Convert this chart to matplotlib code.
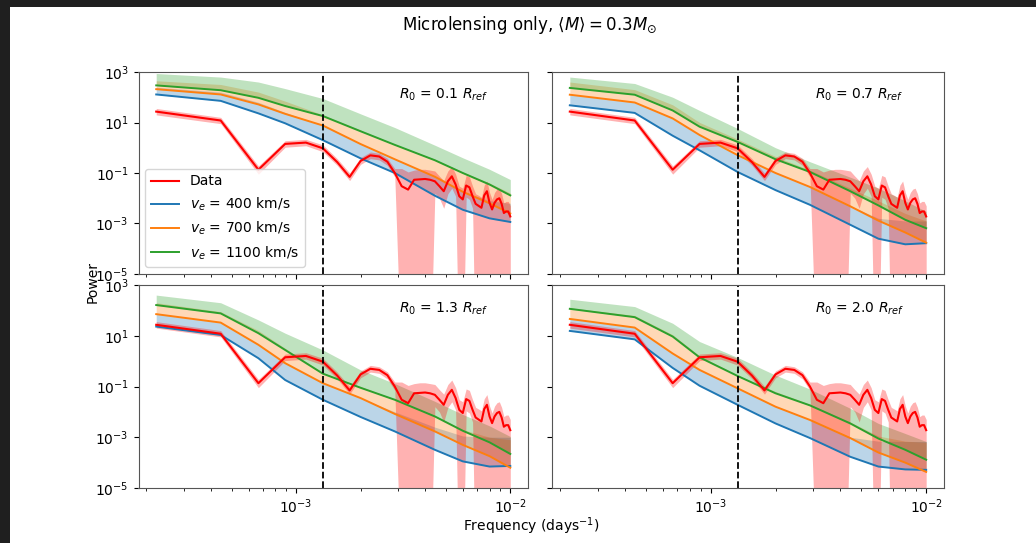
import numpy as np
import matplotlib
matplotlib.use("Agg")
import matplotlib.pyplot as plt
from matplotlib.patches import Rectangle

# ---------------- data ----------------
T_OBS_DAYS = 4500.0
k_data = np.arange(1, 46)                 # harmonic index of the data periodogram
k_model = [1, 2, 3, 4, 6, 9, 13, 20, 27, 36, 45]
f_cut = 6 / T_OBS_DAYS                    # dashed vertical line

power_data = [27, 12, 0.135, 1.42, 1.6, 0.95, 0.27, 0.07, 0.3, 0.5,
              0.45, 0.28, 0.1, 0.03, 0.022, 0.054, 0.056, 0.058, 0.054, 0.047,
              0.03, 0.019, 0.047, 0.074, 0.035, 0.012, 0.009, 0.032, 0.027, 0.012,
              0.006, 0.005, 0.0042, 0.013, 0.019, 0.0066, 0.0036, 0.0066, 0.009, 0.01,
              0.006, 0.0026, 0.003, 0.003, 0.0019]
power_data_lo = [20, 9, 0.09, 1.05, 1.2, 0.7, 0.2, 0.05, 0.22, 0.37,
                 0.33, 0.2, 0.07, 1e-9, 1e-9, 1e-9, 1e-9, 1e-9, 1e-9, 0.016,
                 0.01, 0.004, 0.015, 0.025, 0.012, 1e-9, 1e-9, 0.011, 0.009, 0.004,
                 1e-9, 1e-9, 1e-9, 1e-9, 1e-9, 1e-9, 1e-9, 1e-9, 1e-9, 1e-9,
                 1e-9, 1e-9, 1e-9, 1e-9, 1e-9]
power_data_hi = [36, 16, 0.19, 1.9, 2.15, 1.3, 0.37, 0.1, 0.41, 0.68,
                 0.6, 0.38, 0.15, 0.15, 0.11, 0.13, 0.14, 0.14, 0.13, 0.12,
                 0.075, 0.05, 0.12, 0.18, 0.09, 0.03, 0.025, 0.08, 0.07, 0.03,
                 0.015, 0.013, 0.011, 0.033, 0.048, 0.017, 0.009, 0.017, 0.023, 0.025,
                 0.015, 0.0065, 0.0075, 0.0075, 0.005]

radii = [0.1, 0.7, 1.3, 2.0]
velocities = [400, 700, 1100]

# R0 = 0.1 R_ref
r01_v400 = [129, 72, 23, 9.3, 2.0, 0.38, 0.10, 0.0126, 0.0035, 0.0016, 0.00115]
r01_v400_hi = [250, 160, 63, 25, 7.6, 1.4, 0.35, 0.071, 0.018, 0.008, 0.0063]
r01_v700 = [209, 129, 52, 22, 7.6, 1.4, 0.35, 0.071, 0.018, 0.0063, 0.0025]
r01_v700_hi = [450, 320, 160, 70, 20, 5, 1.4, 0.35, 0.11, 0.04, 0.016]
r01_v1100 = [295, 190, 95, 45, 18, 4.5, 1.3, 0.32, 0.1, 0.035, 0.013]
r01_v1100_hi = [870, 630, 400, 220, 89, 22, 6.3, 1.26, 0.4, 0.14, 0.055]

# R0 = 0.7 R_ref
r07_v400 = [48, 24, 3.0, 0.79, 0.11, 0.021, 0.0055, 0.00089, 0.00025, 0.00015, 0.000166]
r07_v400_hi = [126, 62, 14.5, 3.2, 0.51, 0.1, 0.028, 0.005, 0.0016, 0.00126, 0.00126]
r07_v700 = [126, 62, 14.5, 3.2, 0.51, 0.1, 0.028, 0.0048, 0.0013, 0.00044, 0.000174]
r07_v700_hi = [400, 200, 50, 10, 2.2, 0.45, 0.13, 0.025, 0.0079, 0.0025, 0.00126]
r07_v1100 = [234, 126, 30, 6.8, 1.7, 0.35, 0.11, 0.019, 0.0052, 0.0014, 0.00065]
r07_v1100_hi = [630, 350, 100, 30, 5.8, 1.0, 0.28, 0.068, 0.025, 0.0079, 0.003]

# R0 = 1.3 R_ref
r13_v400 = [23, 10.7, 1.3, 0.18, 0.03, 0.0063, 0.0017, 0.00032, 0.000112, 0.00007, 0.000074]
r13_v400_hi = [71, 33, 4.4, 0.83, 0.135, 0.035, 0.01, 0.0025, 0.00112, 0.001, 0.001]
r13_v700 = [71, 33, 4.4, 0.83, 0.135, 0.035, 0.0083, 0.0017, 0.0005, 0.00018, 0.000063]
r13_v700_hi = [200, 89, 16, 3.2, 0.35, 0.1, 0.032, 0.0071, 0.002, 0.001, 0.0008]
r13_v1100 = [162, 76, 12.6, 2.75, 0.32, 0.089, 0.03, 0.0066, 0.0018, 0.00063, 0.00022]
r13_v1100_hi = [400, 200, 42, 12.6, 2.75, 0.45, 0.13, 0.026, 0.0079, 0.0028, 0.00107]

# R0 = 2.0 R_ref
r20_v400 = [15.5, 7.2, 0.54, 0.107, 0.019, 0.0035, 0.00093, 0.00017, 0.00007, 0.000054, 0.000052]
r20_v400_hi = [46, 21, 2.0, 0.45, 0.085, 0.016, 0.0048, 0.001, 0.0007, 0.00068, 0.00068]
r20_v700 = [46, 21, 2.0, 0.45, 0.085, 0.016, 0.0048, 0.00093, 0.00025, 0.0001, 0.000043]
r20_v700_hi = [126, 63, 11, 1.6, 0.28, 0.063, 0.02, 0.004, 0.00112, 0.0007, 0.00063]
r20_v1100 = [115, 54, 9.3, 1.4, 0.26, 0.054, 0.018, 0.0035, 0.00089, 0.00032, 0.00013]
r20_v1100_hi = [275, 141, 31, 5.9, 1.4, 0.28, 0.079, 0.0138, 0.0035, 0.0014, 0.00068]

models = [
    [(r01_v400, r01_v400_hi), (r01_v700, r01_v700_hi), (r01_v1100, r01_v1100_hi)],
    [(r07_v400, r07_v400_hi), (r07_v700, r07_v700_hi), (r07_v1100, r07_v1100_hi)],
    [(r13_v400, r13_v400_hi), (r13_v700, r13_v700_hi), (r13_v1100, r13_v1100_hi)],
    [(r20_v400, r20_v400_hi), (r20_v700, r20_v700_hi), (r20_v1100, r20_v1100_hi)],
]

# ---------------- figure ----------------
W, H = 1036, 543
fig = plt.figure(figsize=(W / 100, H / 100), dpi=100, facecolor="#1f1f1f")
fig.patches.append(Rectangle((10 / W, 0), 1 - 10 / W, 1 - 7 / H, transform=fig.transFigure,
                             facecolor="white", edgecolor="none", zorder=-10))

f_data = k_data / T_OBS_DAYS
f_model = np.array(k_model) / T_OBS_DAYS
colors = ["C0", "C1", "C2"]

lefts = [138.5, 552]
widths = [389.5, 392]
tops = [72, 285]
heights = [202, 203]
axes = []
for r in range(2):
    for c in range(2):
        rect = [lefts[c] / W, 1 - (tops[r] + heights[r]) / H, widths[c] / W, heights[r] / H]
        ax = fig.add_axes(rect, sharex=axes[0] if axes else None, sharey=axes[0] if axes else None)
        axes.append(ax)

for i, ax in enumerate(axes):
    ax.set_xscale("log")
    ax.set_yscale("log")
    for j, (line, hi) in enumerate(models[i]):
        ax.fill_between(f_model, line, hi, color=colors[j], alpha=0.3, lw=0)
    for j, (line, hi) in enumerate(models[i]):
        ax.plot(f_model, line, color=colors[j], lw=1.4,
                label=r"$v_e$ = %d km/s" % velocities[j])
    ax.fill_between(f_data, power_data_lo, power_data_hi, color="red", alpha=0.3, lw=0)
    ax.plot(f_data, power_data, color="red", lw=1.5, label="Data")
    ax.axvline(f_cut, color="k", ls="--", lw=1.3)
    ax.text(0.67, 0.885, r"$R_0$ = %.1f $R_{ref}$" % radii[i], transform=ax.transAxes,
            ha="left", va="center", fontsize=10)
    ax.set_ylim(1e-5, 1e3)
    ax.set_yticks([1e-5, 1e-3, 1e-1, 1e1, 1e3])
    ax.yaxis.set_minor_locator(matplotlib.ticker.NullLocator())
    ax.tick_params(labelsize=10)
    for s in ax.spines.values():
        s.set_color("#555555")
    if i in (1, 3):
        ax.tick_params(labelleft=False)
    if i in (0, 1):
        ax.tick_params(labelbottom=False)

h, l = axes[0].get_legend_handles_labels()
order = [3, 0, 1, 2]
axes[0].legend([h[o] for o in order], [l[o] for o in order], loc="lower left", fontsize=10)

fig.text(530 / W, 1 - 25 / H, r"Microlensing only, $\langle M \rangle = 0.3M_{\odot}$",
         ha="center", va="center", fontsize=12)
fig.text(93 / W, 1 - 282 / H, "Power", rotation=90, ha="center", va="center", fontsize=10)
fig.text(531 / W, 1 - 526 / H, r"Frequency (days$^{-1}$)", ha="center", va="center", fontsize=10)

fig.savefig("out.png", dpi=100, facecolor=fig.get_facecolor())
